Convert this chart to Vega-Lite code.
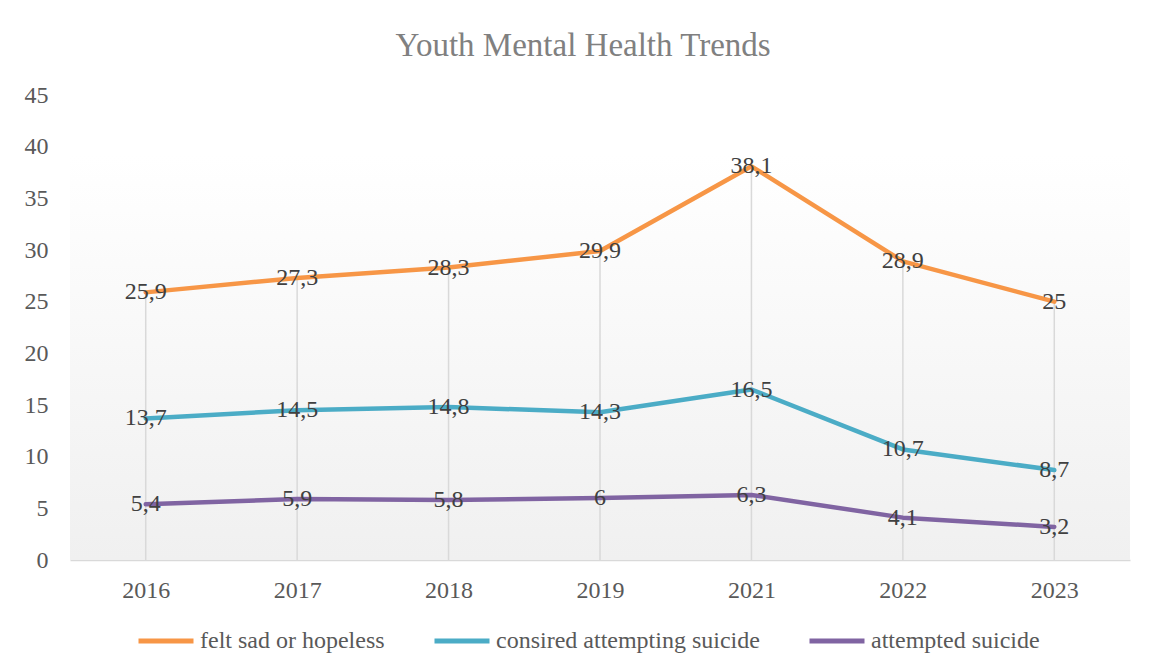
{
  "$schema": "https://vega.github.io/schema/vega-lite/v6.json",
  "width": 1060,
  "height": 465,
  "autosize": "none",
  "padding": {"left": 70, "top": 95, "right": 21, "bottom": 112},
  "background": "#ffffff",
  "title": {
    "text": "Youth Mental Health Trends",
    "font": "Liberation Serif",
    "fontSize": 33,
    "fontWeight": "normal",
    "color": "#808080",
    "anchor": "middle",
    "dx": -17,
    "baseline": "alphabetic",
    "offset": -6
  },
  "config": {
    "font": "Liberation Serif",
    "view": {"stroke": null},
    "axis": {"labelFont": "Liberation Serif", "labelFontSize": 24, "labelColor": "#595959"},
    "legend": {"labelFont": "Liberation Serif", "labelFontSize": 24, "labelColor": "#595959"},
    "locale": {
      "number": {"decimal": ",", "thousands": ".", "grouping": [3], "currency": ["", " €"]}
    }
  },
  "data": {
    "values": [
      {"year": "2016", "series": "felt sad or hopeless", "value": 25.9},
      {"year": "2017", "series": "felt sad or hopeless", "value": 27.3},
      {"year": "2018", "series": "felt sad or hopeless", "value": 28.3},
      {"year": "2019", "series": "felt sad or hopeless", "value": 29.9},
      {"year": "2021", "series": "felt sad or hopeless", "value": 38.1},
      {"year": "2022", "series": "felt sad or hopeless", "value": 28.9},
      {"year": "2023", "series": "felt sad or hopeless", "value": 25},
      {"year": "2016", "series": "consired attempting suicide", "value": 13.7},
      {"year": "2017", "series": "consired attempting suicide", "value": 14.5},
      {"year": "2018", "series": "consired attempting suicide", "value": 14.8},
      {"year": "2019", "series": "consired attempting suicide", "value": 14.3},
      {"year": "2021", "series": "consired attempting suicide", "value": 16.5},
      {"year": "2022", "series": "consired attempting suicide", "value": 10.7},
      {"year": "2023", "series": "consired attempting suicide", "value": 8.7},
      {"year": "2016", "series": "attempted suicide", "value": 5.4},
      {"year": "2017", "series": "attempted suicide", "value": 5.9},
      {"year": "2018", "series": "attempted suicide", "value": 5.8},
      {"year": "2019", "series": "attempted suicide", "value": 6},
      {"year": "2021", "series": "attempted suicide", "value": 6.3},
      {"year": "2022", "series": "attempted suicide", "value": 4.1},
      {"year": "2023", "series": "attempted suicide", "value": 3.2}
    ]
  },
  "layer": [
    {
      "data": {"values": [{"lo": 0, "hi": 39.2}]},
      "mark": {
        "type": "rect",
        "fill": {
          "gradient": "linear",
          "x1": 0, "y1": 0, "x2": 0, "y2": 1,
          "stops": [
            {"offset": 0, "color": "#ffffff"},
            {"offset": 1, "color": "#f0f0f0"}
          ]
        }
      },
      "encoding": {
        "y": {"field": "lo", "type": "quantitative"},
        "y2": {"field": "hi"}
      }
    },
    {
      "transform": [{"filter": "datum.series === 'felt sad or hopeless'"}],
      "mark": {"type": "rule", "color": "#d9d9d9", "strokeWidth": 1.5},
      "encoding": {
        "x": {"field": "year", "type": "ordinal", "scale": {"type": "point", "padding": 0.5}},
        "y": {"field": "value", "type": "quantitative"},
        "y2": {"datum": 0}
      }
    },
    {
      "mark": {"type": "line", "strokeWidth": 4.5, "strokeCap": "round", "strokeJoin": "round"},
      "encoding": {
        "x": {
          "field": "year", "type": "ordinal",
          "scale": {"type": "point", "padding": 0.5},
          "axis": {
            "title": null,
            "labelFont": "Liberation Serif",
            "labelFontSize": 24,
            "labelColor": "#595959",
            "labelAngle": 0,
            "labelAlign": "center",
            "labelBaseline": "top",
            "labelPadding": 18,
            "ticks": false,
            "domainColor": "#d9d9d9",
            "domainWidth": 1.5,
            "grid": false
          }
        },
        "y": {
          "field": "value", "type": "quantitative",
          "scale": {"domain": [0, 45], "nice": false},
          "axis": {
            "title": null,
            "values": [0, 5, 10, 15, 20, 25, 30, 35, 40, 45],
            "labelFont": "Liberation Serif",
            "labelFontSize": 24,
            "labelColor": "#595959",
            "labelPadding": 22,
            "ticks": false,
            "domain": false,
            "grid": false
          }
        },
        "color": {
          "field": "series", "type": "nominal",
          "scale": {
            "domain": ["felt sad or hopeless", "consired attempting suicide", "attempted suicide"],
            "range": ["#f79646", "#4bacc6", "#8064a2"]
          },
          "legend": {
            "title": null,
            "orient": "none",
            "direction": "horizontal",
            "legendX": 66,
            "legendY": 516,
            "symbolType": "stroke",
            "symbolSize": 3025,
            "symbolStrokeWidth": 5,
            "labelFont": "Liberation Serif",
            "labelFontSize": 24,
            "labelColor": "#595959",
            "labelOffset": 4,
            "columnPadding": 39,
            "labelLimit": 400
          }
        }
      }
    },
    {
      "mark": {"type": "text", "fontSize": 24, "font": "Liberation Serif", "color": "#404040", "baseline": "middle"},
      "encoding": {
        "x": {"field": "year", "type": "ordinal", "scale": {"type": "point", "padding": 0.5}},
        "y": {"field": "value", "type": "quantitative"},
        "text": {"field": "value", "type": "quantitative", "format": "~g"}
      }
    }
  ]
}
